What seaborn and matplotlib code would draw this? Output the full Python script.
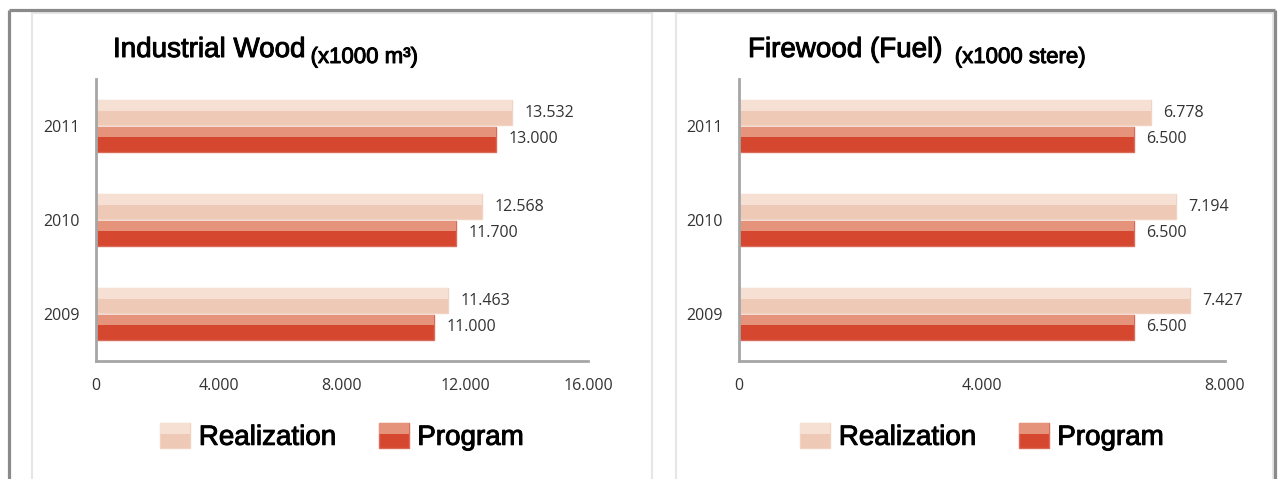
import matplotlib
matplotlib.use("Agg")
import matplotlib.pyplot as plt
import matplotlib.patheffects as pe
from matplotlib.patches import Rectangle, Patch
from matplotlib.lines import Line2D
from matplotlib.legend_handler import HandlerBase
from matplotlib.ticker import FuncFormatter
import pandas as pd
import seaborn as sns

# data
years = ["2011", "2010", "2009"]
series = ["Realization", "Program"]
industrial_realization = [13532, 12568, 11463]
industrial_program = [13000, 11700, 11000]
firewood_realization = [6778, 7194, 7427]
firewood_program = [6500, 6500, 6500]

# colours: (top half, bottom half, edge)
light = ("#F6E0D4", "#EEC9B5", "#F1D3C4")
dark = ("#E5937A", "#D6472F", "#D86B5A")

sns.set_style("white")
plt.rcParams["font.family"] = ["Liberation Sans", "DejaVu Sans"]
NUM_FONT = ["Open Sans", "DejaVu Sans"]
# slightly heavier strokes, like the screen rendering of the original
HEAVY = [pe.withStroke(linewidth=0.7, foreground="black")]


def dotted(v, pos=None):
    return f"{int(round(v)):,}".replace(",", ".")


class GradientHandler(HandlerBase):
    """Legend key drawn as a two tone square like the bars."""

    def __init__(self, colors):
        super().__init__()
        self.colors = colors

    def create_artists(self, legend, orig_handle, xdescent, ydescent,
                       width, height, fontsize, trans):
        top, bottom, edge = self.colors
        lo = Rectangle((-xdescent, -ydescent), width, height, facecolor=bottom,
                       edgecolor=edge, lw=1, transform=trans)
        hi = Rectangle((-xdescent, -ydescent + height * 0.55), width, height * 0.45,
                       facecolor=top, lw=0, transform=trans)
        return [lo, hi]


def draw_panel(fig, rect, realization, program, xmax, xticks, title, subtitle,
               title_x, sub_gap):
    ax = fig.add_axes(rect)
    df = pd.DataFrame({
        "year": years * 2,
        "series": [series[0]] * len(years) + [series[1]] * len(years),
        "value": realization + program,
    })
    sns.barplot(data=df, x="value", y="year", hue="series", order=years,
                hue_order=series, palette=[light[1], dark[1]], orient="h",
                width=0.57, gap=0.06, saturation=1, legend=False, ax=ax)

    # two tone look of the bars
    for cont, cols in zip(ax.containers, [light, dark]):
        for p in cont.patches:
            p.set_edgecolor(cols[2])
            p.set_linewidth(1)
            ax.add_patch(Rectangle((p.get_x(), p.get_y()), p.get_width(),
                                   p.get_height() * 0.42, facecolor=cols[0],
                                   lw=0, zorder=p.get_zorder() + 0.1))
        ax.bar_label(cont, fmt=dotted, padding=9, fontsize=11.5,
                     color="#333333", family=NUM_FONT)

    ax.set_xlim(0, xmax)
    ax.set_xticks(xticks)
    ax.xaxis.set_major_formatter(FuncFormatter(dotted))
    ax.set_xlabel("")
    ax.set_ylabel("")
    ax.set_yticks([0.5, 1.5], minor=True)
    ax.tick_params(axis="y", which="major", length=0, pad=12, labelsize=11.5,
                   labelcolor="#333333")
    ax.tick_params(axis="y", which="minor", length=4, width=1, color="#A6A6A6")
    ax.tick_params(axis="x", length=0, pad=12, labelsize=11.5, labelcolor="#333333")
    for lab in ax.get_xticklabels() + ax.get_yticklabels():
        lab.set_family(NUM_FONT)
    sns.despine(ax=ax)
    for s in ("left", "bottom"):
        ax.spines[s].set_color("#A6A6A6")
        ax.spines[s].set_linewidth(2)

    t = fig.text(title_x, 0.881, title, fontsize=20, color="black",
                 va="baseline", path_effects=HEAVY)
    ax.annotate(subtitle, xy=(1, 0), xycoords=t, xytext=(sub_gap, 0),
                textcoords="offset points", fontsize=16, color="black",
                va="baseline", path_effects=HEAVY)

    handles = [Patch(label=series[0]), Patch(label=series[1])]
    cx = rect[0] + rect[2] / 2
    leg = ax.legend(handles=handles, ncol=2, loc="center", bbox_to_anchor=(cx, 0.088),
                    bbox_transform=fig.transFigure, frameon=False, fontsize=20,
                    handlelength=1.08, handleheight=1.0, handletextpad=0.3,
                    columnspacing=1.55,
                    handler_map={handles[0]: GradientHandler(light),
                                 handles[1]: GradientHandler(dark)})
    for txt in leg.get_texts():
        txt.set_color("black")
        txt.set_path_effects(HEAVY)
    return ax


fig = plt.figure(figsize=(12.78, 4.79), dpi=100)
W, H = 1278, 479

# panel boxes and outer frame
for x0, x1 in [(32, 652), (676, 1273)]:
    fig.add_artist(Rectangle((x0 / W, -0.05), (x1 - x0) / W, 1.05 - 13 / H,
                             transform=fig.transFigure, fill=False,
                             edgecolor="#E6E6E6", lw=1.5))
frame = dict(color="#8A8A8A", lw=2.3, transform=fig.transFigure, solid_capstyle="butt")
fig.add_artist(Line2D([9 / W, 1275 / W], [1 - 10 / H, 1 - 10 / H], **frame))
fig.add_artist(Line2D([9 / W, 9 / W], [0, 1 - 10 / H], **frame))
fig.add_artist(Line2D([1275 / W, 1275 / W], [0, 1 - 10 / H], **frame))

ax_bottom = 1 - 361 / H
ax_height = (361 - 79) / H
draw_panel(fig, [96 / W, ax_bottom, (588 - 96) / W, ax_height],
           industrial_realization, industrial_program, 16000,
           [0, 4000, 8000, 12000, 16000], "Industrial Wood", "(x1000 m³)",
           113 / W, 4)
draw_panel(fig, [739 / W, ax_bottom, (1225 - 739) / W, ax_height],
           firewood_realization, firewood_program, 8000,
           [0, 4000, 8000], "Firewood (Fuel)", "(x1000 stere)", 748 / W, 9)

fig.savefig("out.png", dpi=100, facecolor="white")
